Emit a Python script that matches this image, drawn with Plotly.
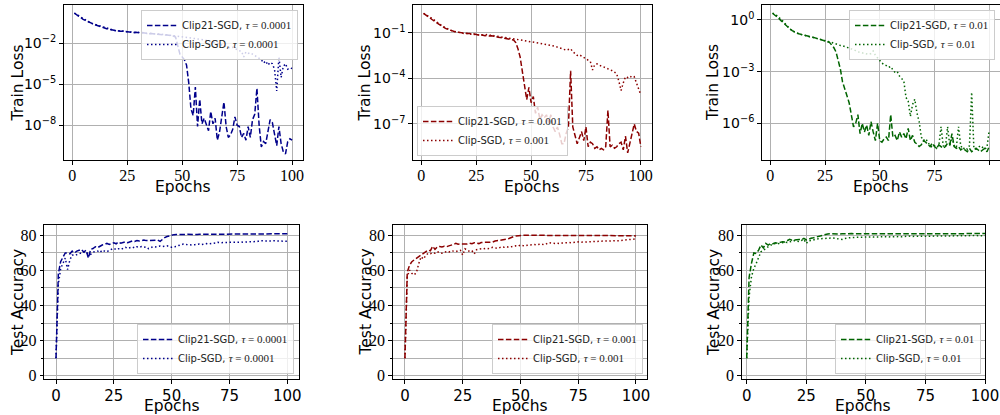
import plotly.graph_objects as go

# ---------------- data ----------------
epochs_loss = list(range(1, 101))
epochs_acc = list(range(0, 101))

# train loss, stored as log10(loss)
loss_a_clip21_log10 = [
    0.2, 0.08, -0.05, -0.15, -0.25, -0.33, -0.42, -0.5, -0.55, -0.62,
    -0.68, -0.74, -0.8, -0.85, -0.9, -0.95, -0.98, -1.02, -1.05, -1.08,
    -1.1, -1.13, -1.12, -1.15, -1.18, -1.17, -1.2, -1.22, -1.2, -1.24,
    -1.25, -1.23, -1.27, -1.28, -1.3, -1.29, -1.32, -1.33, -1.35, -1.36,
    -1.38, -1.37, -1.4, -1.42, -1.44, -1.47, -1.55, -2.1, -2.8, -3.0,
    -3.2, -3.6, -4.9, -6.8, -7.3, -5.2, -8.1, -6.1, -7.9, -7.5,
    -7.9, -8.4, -7.0, -7.9, -7.5, -9.1, -8.5, -7.4, -6.3, -8.1,
    -8.9, -8.7, -8.3, -7.4, -8.0, -8.1, -8.9, -8.6, -9.1, -8.1,
    -8.9, -7.6, -7.2, -5.3, -8.0, -9.6, -9.2, -9.35, -8.5, -7.6,
    -7.8, -8.6, -9.5, -8.1, -9.35, -9.95, -10.1, -9.2, -9.0, -9.1]
loss_a_clip_log10 = [
    0.2, 0.1, -0.02, -0.1, -0.22, -0.3, -0.4, -0.47, -0.55, -0.6,
    -0.66, -0.72, -0.78, -0.85, -0.88, -0.93, -0.97, -1.0, -1.05, -1.1,
    -1.08, -1.14, -1.1, -1.16, -1.15, -1.18, -1.16, -1.2, -1.22, -1.2,
    -1.24, -1.22, -1.26, -1.28, -1.27, -1.3, -1.3, -1.33, -1.32, -1.35,
    -1.37, -1.36, -1.38, -1.4, -1.42, -1.43, -1.45, -1.48, -1.5, -1.52,
    -1.55, -1.56, -1.58, -1.6, -1.62, -1.64, -1.65, -1.7, -1.72, -1.75,
    -1.8, -1.82, -1.85, -1.9, -1.95, -2.0, -2.05, -2.1, -2.15, -2.2,
    -2.25, -2.35, -2.3, -2.4, -2.45, -2.55, -2.6, -3.0, -2.65, -2.75,
    -2.7, -2.8, -2.9, -3.0, -3.1, -3.2, -3.45, -3.3, -3.6, -3.4,
    -3.5, -3.9, -5.5, -3.0, -4.5, -3.7, -3.5, -3.9, -3.8, -3.85]

loss_b_clip21_log10 = [
    0.27, 0.15, 0.05, -0.05, -0.15, -0.25, -0.35, -0.45, -0.55, -0.65,
    -0.72, -0.78, -0.84, -0.88, -0.92, -0.95, -0.98, -1.0, -1.02, -1.04,
    -1.06, -1.05, -1.1, -1.08, -1.12, -1.15, -1.13, -1.18, -1.2, -1.17,
    -1.22, -1.2, -1.25, -1.27, -1.3, -1.32, -1.35, -1.38, -1.4, -1.43,
    -1.45, -1.48, -1.65, -2.05, -2.6, -3.5, -4.7, -5.4, -4.6, -5.6,
    -5.2, -6.3, -5.9, -6.7, -6.4, -6.6, -6.4, -6.9, -6.4, -7.2,
    -7.5, -7.2, -7.7, -8.3, -8.3, -7.6, -7.2, -3.5, -7.2, -7.8,
    -8.3, -7.9, -7.5, -8.1, -7.2, -8.5, -8.2, -8.3, -8.6, -8.5,
    -8.7, -8.6, -8.7, -8.5, -6.1, -8.5, -8.4, -8.6, -8.5, -8.3,
    -8.2, -8.7, -7.8, -8.9, -8.3, -7.8, -7.0, -7.5, -7.6, -8.5]
loss_b_clip_log10 = [
    0.27, 0.2, 0.12, 0.02, -0.08, -0.2, -0.3, -0.4, -0.5, -0.6,
    -0.68, -0.75, -0.82, -0.88, -0.92, -0.96, -1.0, -1.02, -1.05, -1.07,
    -1.05, -1.1, -1.08, -1.12, -1.1, -1.15, -1.12, -1.16, -1.14, -1.12,
    -1.18, -1.15, -1.2, -1.22, -1.25, -1.27, -1.3, -1.32, -1.35, -1.38,
    -1.4, -1.42, -1.44, -1.46, -1.48, -1.5, -1.52, -1.55, -1.57, -1.6,
    -1.62, -1.65, -1.67, -1.7, -1.72, -1.75, -1.78, -1.8, -1.83, -1.86,
    -1.9, -1.95, -2.0, -2.05, -2.1, -2.15, -2.1, -2.05, -2.25, -2.4,
    -2.5, -2.45, -2.55, -2.65, -2.7, -2.8, -2.9, -3.45, -3.1, -3.05,
    -3.15, -3.2, -3.25, -3.3, -3.35, -3.45, -3.5, -3.6, -3.7, -4.2,
    -4.8, -4.3, -3.9, -3.95, -3.85, -3.95, -3.9, -4.3, -4.7, -5.1]

loss_c_clip21_log10 = [
    0.39, 0.3, 0.2, 0.08, -0.05, -0.18, -0.3, -0.42, -0.52, -0.62,
    -0.7, -0.75, -0.8, -0.84, -0.87, -0.9, -0.93, -0.96, -0.98, -1.02,
    -1.05, -1.08, -1.12, -1.16, -1.2, -1.24, -1.3, -1.45, -1.6, -1.85,
    -2.3, -2.85, -3.6, -4.0, -4.35, -4.8, -5.5, -6.2, -6.0, -5.5,
    -6.6, -6.0, -6.5, -6.1, -6.7, -5.9, -6.5, -7.0, -6.0, -7.0,
    -7.1, -6.9, -6.8, -7.0, -5.5, -6.8, -6.7, -7.0, -6.5, -6.8,
    -6.6, -6.9, -6.3, -7.0, -6.7, -7.1, -7.2, -7.35, -7.25, -7.0,
    -7.1, -7.25, -7.35, -7.15, -7.35, -7.45, -7.25, -7.35, -7.45, -7.35,
    -7.15, -7.25, -6.6, -7.35, -7.45, -7.35, -7.55, -7.45, -7.55, -7.65,
    -7.45, -7.65, -7.55, -7.45, -7.55, -7.65, -7.55, -7.45, -7.65, -7.35]
loss_c_clip_log10 = [
    0.39, 0.35, 0.25, 0.15, 0.02, -0.1, -0.25, -0.4, -0.52, -0.62,
    -0.7, -0.76, -0.8, -0.85, -0.88, -0.9, -0.95, -0.98, -1.0, -1.03,
    -1.05, -1.1, -1.12, -1.16, -1.2, -1.22, -1.25, -1.3, -1.35, -1.4,
    -1.44, -1.48, -1.5, -1.53, -1.6, -1.63, -1.68, -1.72, -1.78, -1.85,
    -1.88, -1.9, -1.93, -1.96, -2.0, -1.95, -1.8, -2.05, -2.2, -2.4,
    -2.5, -2.6, -2.65, -2.75, -2.7, -2.9, -3.05, -3.0, -3.25, -3.4,
    -3.55, -4.5, -4.7, -5.6, -4.9, -4.6, -5.4, -5.9, -6.8, -7.0,
    -6.9, -7.1, -7.3, -7.4, -7.3, -7.4, -7.3, -6.2, -7.3, -7.4,
    -6.2, -7.3, -6.8, -7.3, -7.4, -6.2, -7.3, -7.5, -7.4, -7.5,
    -7.3, -4.2, -7.4, -7.5, -7.4, -7.3, -7.4, -7.5, -7.4, -6.4]

# test accuracy
acc_a_clip21 = [
    10, 58, 65, 68, 70, 70, 69.5, 71, 70, 71, 71.6,
    72, 70.5, 71.5, 67, 72, 72.5, 73.5, 73, 74, 74.5,
    75, 75.4, 74.8, 75.4, 75.8, 75.2, 76.2, 75.5, 76, 76.3,
    75.8, 76.5, 76.8, 76.5, 77, 76.8, 77.2, 77.3, 77, 77.1,
    77.3, 77.4, 77.2, 77.3, 76.6, 77.8, 78.7, 79.3, 79.8, 80.2,
    80.4, 80.5, 80.4, 80.5, 80.6, 80.5, 80.6, 80.5, 80.6, 80.6,
    80.5, 80.6, 80.6, 80.5, 80.6, 80.6, 80.5, 80.5, 80.6, 80.5,
    80.5, 80.6, 80.5, 80.6, 80.5, 80.5, 80.6, 80.6, 80.7, 80.6,
    80.7, 80.6, 80.7, 80.7, 80.6, 80.7, 80.8, 80.7, 80.8, 80.8,
    80.7, 80.8, 80.8, 80.7, 80.8, 80.8, 80.8, 80.8, 80.8, 80.9]
acc_a_clip = [
    10, 52, 61, 64, 67, 60.5, 66, 68.8, 68.5, 69, 69.7,
    70, 70.5, 69.5, 70, 69.2, 70.5, 70.8, 71, 70.2, 71.6,
    71, 70.6, 71.5, 72, 72.6, 71.8, 72.4, 72, 72.8, 73.2,
    72.6, 73, 73.4, 72.8, 73.5, 73.2, 73.6, 73.2, 73.4, 72.4,
    73.2, 73.6, 73.4, 73.8, 73.9, 73.6, 73.8, 74, 73.6, 73.2,
    73.5, 73.6, 74.2, 74.6, 75, 74.8, 74.6, 74.8, 74.5, 74.7,
    74.9, 75.1, 74.8, 75.2, 75.3, 75.1, 75.4, 75.6, 75.5, 76,
    75.8, 75.9, 75.7, 75.9, 76, 75.9, 76.1, 76, 76.2, 76.2,
    76.1, 76.3, 76.2, 76.4, 76.4, 76.3, 76.5, 76.9, 76.8, 76.7,
    76.8, 76.7, 76.8, 76.9, 76.8, 76.7, 76.8, 76.8, 76.7, 76.6]

acc_b_clip21 = [
    10, 59, 63, 65, 66, 67, 68, 68.8, 69.7, 70.5, 71.6,
    71.2, 73.8, 72, 73.5, 73.6, 73.4, 73.8, 73.5, 74, 74.3,
    74.8, 75.4, 74.9, 75.1, 75, 75.3, 75.1, 75.5, 75.2, 75.8,
    75.6, 75.3, 75.9, 76, 76.3, 76.1, 76.5, 76.2, 76.8, 77,
    76.8, 77.2, 77.5, 77.8, 78.2, 78.9, 79.3, 79.6, 79.8, 80,
    80.0, 80.1, 80.0, 80.1, 80.0, 80.0, 80.1, 80.0, 80.0, 80.1,
    80.0, 79.9, 80.0, 80.0, 79.9, 80.0, 80.0, 79.9, 80.0, 80.0,
    79.9, 80.0, 79.9, 79.9, 80.0, 79.9, 80.0, 79.9, 79.9, 80.0,
    79.9, 79.9, 80.0, 79.9, 79.9, 79.8, 79.9, 79.9, 79.8, 79.9,
    79.9, 79.8, 79.9, 79.9, 79.8, 79.9, 79.9, 79.8, 79.8, 79.6]
acc_b_clip = [
    10, 56.4, 60.2, 58.3, 57.4, 59, 64, 67.8, 66.5, 68.5, 69.7,
    69.5, 70.2, 69.8, 70.7, 70.3, 69.8, 70.5, 70.7, 70.4, 71.3,
    71, 70.7, 71.2, 71.5, 68.8, 72.3, 71.5, 70.8, 71.2, 69.4,
    71.8, 72.2, 72.4, 72.3, 72.6, 72.4, 72.8, 73.2, 72.9, 72.6,
    73, 73.4, 73.2, 73.5, 73.2, 73.5, 73.8, 74, 73.8, 74.5,
    74.2, 74, 74.4, 74.6, 75, 74.8, 74.6, 74.9, 75.1, 74.7,
    75, 75.8, 75.6, 75.3, 75.4, 75.5, 75.3, 75.6, 75.8, 76,
    75.9, 75.8, 76, 76.2, 76.3, 76.1, 76.2, 76.3, 76.2, 76.1,
    76.3, 76.4, 76.5, 76.6, 76.8, 76.7, 76.8, 76.7, 76.9, 76.9,
    77, 76.9, 77, 77.1, 77.1, 77.2, 77.3, 77.5, 77.6, 78]

acc_c_clip21 = [
    10, 56, 64, 70, 69.7, 71.6, 74.5, 72.8, 75.4, 74.5, 75.4,
    75.2, 75.8, 75.5, 76, 76.4, 76.2, 77, 77.7, 77.2, 77.4,
    77.2, 77.7, 77.5, 78.3, 77.4, 78, 78.3, 78.6, 79, 79.2,
    79.8, 80.4, 80.8, 80.8, 80.9, 80.8, 80.9, 80.9, 80.8, 80.9,
    81.0, 80.9, 80.9, 81.0, 80.9, 80.9, 80.9, 80.9, 80.9, 80.8,
    80.9, 80.9, 80.8, 80.9, 80.9, 80.8, 80.9, 80.9, 80.8, 80.8,
    80.9, 80.8, 80.8, 80.9, 80.8, 80.8, 80.9, 80.8, 80.8, 80.9,
    80.9, 80.8, 80.9, 80.9, 80.9, 80.8, 80.9, 80.9, 80.9, 80.9,
    80.9, 81.0, 80.9, 80.9, 81.0, 80.9, 81.0, 80.9, 81.0, 81.0,
    80.9, 81.0, 81.0, 80.9, 81.0, 81.0, 81.0, 81.0, 81.0, 81.0]
acc_c_clip = [
    10, 45, 56.4, 61.2, 64, 67.8, 70.7, 71.5, 72.6, 73.5, 74.5,
    74.6, 75.4, 75.2, 75.5, 75.8, 76.1, 75.9, 76.4, 76.6, 77,
    76.8, 76.4, 77.1, 77.7, 75.4, 76.9, 77, 77.5, 77.8, 78,
    78.1, 78.3, 78.2, 78.4, 78.3, 78.5, 78.3, 78.2, 77.9, 77.7,
    78.2, 78.5, 78.7, 78.8, 78.8, 78.9, 79, 79.1, 79.1, 78.9,
    79.0, 79.1, 79.0, 79.1, 79.2, 79.1, 79.1, 79.2, 79.1, 79.2,
    79.3, 79.2, 79.3, 79.3, 79.2, 79.4, 79.3, 79.6, 79.4, 79.4,
    79.5, 79.4, 79.5, 79.5, 79.6, 79.5, 79.6, 79.6, 79.5, 79.6,
    79.7, 79.6, 79.7, 79.7, 79.6, 79.7, 79.8, 79.7, 79.8, 79.8,
    79.7, 79.8, 79.8, 79.9, 79.8, 79.8, 79.9, 79.9, 79.8, 79.9]

taus = ["0.0001", "0.001", "0.01"]
colors = ["#00008B", "#8B0000", "#006400"]

loss_ticks = [[-2, -5, -8], [-1, -4, -7], [0, -3, -6]]
loss_ranges = [[-10.55, 0.8], [-9.37, 0.82], [-8.13, 0.87]]
x_ticks = [0, 25, 50, 75, 100]

# ---------------- layout geometry (pixels) ----------------
W, H = 1000, 415
top_x = [(63.5, 303.0), (412.7, 651.7), (761.7, 1000.0)]
top_y = (5.0, 160.0)
bot_x = [(44.3, 299.0), (392.7, 647.3), (741.7, 985.0)]
bot_y = (225.0, 379.3)
bot_xranges = [[-5.06, 105.06], [-5.3, 104.9], [-2.1, 100.0]]

def xd(a, b):
    return [a / W, b / W]

def yd(t, b):
    return [1 - b / H, 1 - t / H]

SANS = "DejaVu Sans"
SERIF = "Liberation Serif"
DASH = "5.5px,2.4px"
DOT = "1.5px,2.5px"

fig = go.Figure()

loss_sets = [(loss_a_clip21_log10, loss_a_clip_log10),
             (loss_b_clip21_log10, loss_b_clip_log10),
             (loss_c_clip21_log10, loss_c_clip_log10)]
acc_sets = [(acc_a_clip21, acc_a_clip), (acc_b_clip21, acc_b_clip),
            (acc_c_clip21, acc_c_clip)]

def lab(name, tau):
    return (f"{name}, <span style='font-family:{SERIF};font-size:11px'>"
            f"<i>τ</i> = {tau}</span>")

for i in range(3):
    c = colors[i]
    ax = i + 1
    sfx = "" if ax == 1 else str(ax)
    leg = "legend" if ax == 1 else f"legend{ax}"
    d21, dcl = loss_sets[i]
    fig.add_trace(go.Scatter(x=epochs_loss, y=[10 ** v for v in d21], mode="lines",
                             line=dict(color=c, width=1.5, dash=DASH),
                             name=lab("Clip21-SGD", taus[i]),
                             xaxis=f"x{sfx}", yaxis=f"y{sfx}", legend=leg))
    fig.add_trace(go.Scatter(x=epochs_loss, y=[10 ** v for v in dcl], mode="lines",
                             line=dict(color=c, width=1.5, dash=DOT),
                             name=lab("Clip-SGD", taus[i]),
                             xaxis=f"x{sfx}", yaxis=f"y{sfx}", legend=leg))
for i in range(3):
    c = colors[i]
    ax = i + 4
    leg = f"legend{ax}"
    a21, acl = acc_sets[i]
    fig.add_trace(go.Scatter(x=epochs_acc, y=a21, mode="lines",
                             line=dict(color=c, width=1.5, dash=DASH),
                             name=lab("Clip21-SGD", taus[i]),
                             xaxis=f"x{ax}", yaxis=f"y{ax}", legend=leg))
    fig.add_trace(go.Scatter(x=epochs_acc, y=acl, mode="lines",
                             line=dict(color=c, width=1.5, dash=DOT),
                             name=lab("Clip-SGD", taus[i]),
                             xaxis=f"x{ax}", yaxis=f"y{ax}", legend=leg))

common = dict(showline=True, linecolor="black", linewidth=1, mirror=True,
              ticks="outside", ticklen=3.5, tickwidth=0.8, tickcolor="black",
              showgrid=True, gridcolor="#b0b0b0", gridwidth=0.8, zeroline=False,
              automargin=False)

lay = {}
for i in range(3):
    ax = i + 1
    sfx = "" if ax == 1 else str(ax)
    lay[f"xaxis{sfx}"] = dict(common, domain=xd(*top_x[i]), range=[-3.95, 104.95],
                              tickmode="array", tickvals=x_ticks,
                              ticktext=[str(v) for v in x_ticks],
                              tickfont=dict(family=SERIF, size=16, color="black"),
                              ticklabelstandoff=-3,
                              anchor=f"y{sfx}")
    tv = loss_ticks[i]
    lay[f"yaxis{sfx}"] = dict(common, domain=yd(*top_y), type="log", range=loss_ranges[i],
                              tickmode="array", tickvals=[10.0 ** e for e in tv],
                              ticktext=[f"10<sup>{'−' if e < 0 else ''}{abs(e)}</sup>" for e in tv],
                              tickfont=dict(family=SANS, size=14, color="black"),
                              anchor=f"x{sfx}")
for i in range(3):
    ax = i + 4
    lay[f"xaxis{ax}"] = dict(common, domain=xd(*bot_x[i]), range=bot_xranges[i],
                             tickmode="array", tickvals=x_ticks,
                             ticktext=[str(v) for v in x_ticks],
                             tickfont=dict(family=SANS, size=15, color="black"),
                             ticklabelstandoff=-1,
                             anchor=f"y{ax}")
    lay[f"yaxis{ax}"] = dict(common, domain=yd(*bot_y), range=[-2.05, 85.9],
                             tickmode="linear", tick0=0, dtick=20,
                             tickfont=dict(family=SERIF, size=16, color="black"),
                             minor=dict(tickmode="linear", tick0=0, dtick=10, ticks="outside",
                                        ticklen=2, tickcolor="black", showgrid=True,
                                        gridcolor="#b0b0b0", gridwidth=0.8),
                             anchor=f"x{ax}")

legbase = dict(bgcolor="rgba(255,255,255,0.8)", bordercolor="#cccccc", borderwidth=1,
               font=dict(family=SANS, size=10, color="#222222"), itemwidth=30,
               tracegroupgap=0)
leg_pos = {
    "legend": dict(x=0.298, y=1 - 10 / H, xanchor="right", yanchor="top"),
    "legend2": dict(x=0.417, y=1 - 156 / H, xanchor="left", yanchor="bottom"),
    "legend3": dict(x=0.995, y=1 - 10 / H, xanchor="right", yanchor="top"),
    "legend4": dict(x=0.294, y=1 - 374 / H, xanchor="right", yanchor="bottom"),
    "legend5": dict(x=0.643, y=1 - 374 / H, xanchor="right", yanchor="bottom"),
    "legend6": dict(x=0.981, y=1 - 374 / H, xanchor="right", yanchor="bottom"),
}
for k, v in leg_pos.items():
    lay[k] = dict(legbase, **v)

annotations = []
title_font = dict(family=SANS, size=15.5, color="black")
ylab_x = [17.5, 364.5, 713.0]
ylab_x_bot = [17.5, 365.0, 713.5]
for i in range(3):
    cx = (top_x[i][0] + top_x[i][1]) / 2
    annotations.append(dict(text="Epochs", x=cx / W, y=1 - 187 / H, xref="paper", yref="paper",
                            showarrow=False, font=title_font, xanchor="center", yanchor="middle"))
    annotations.append(dict(text="Train Loss", x=ylab_x[i] / W, y=1 - 83 / H, xref="paper",
                            yref="paper", showarrow=False, font=title_font, textangle=-90,
                            xanchor="center", yanchor="middle"))
    cxb = (bot_x[i][0] + bot_x[i][1]) / 2
    annotations.append(dict(text="Epochs", x=cxb / W, y=1 - 405.5 / H, xref="paper", yref="paper",
                            showarrow=False, font=title_font, xanchor="center", yanchor="middle"))
    annotations.append(dict(text="Test Accuracy", x=ylab_x_bot[i] / W, y=1 - 302.5 / H,
                            xref="paper", yref="paper", showarrow=False, font=title_font,
                            textangle=-90, xanchor="center", yanchor="middle"))

fig.update_layout(width=W, height=H, margin=dict(l=0, r=0, t=0, b=0, autoexpand=False),
                  paper_bgcolor="white", plot_bgcolor="white",
                  showlegend=True, annotations=annotations, **lay)

fig.write_html("out.html", config={"displayModeBar": False},
               post_script="document.body.style.margin='0';document.body.style.padding='0';"
                           "document.body.style.overflow='hidden';")
